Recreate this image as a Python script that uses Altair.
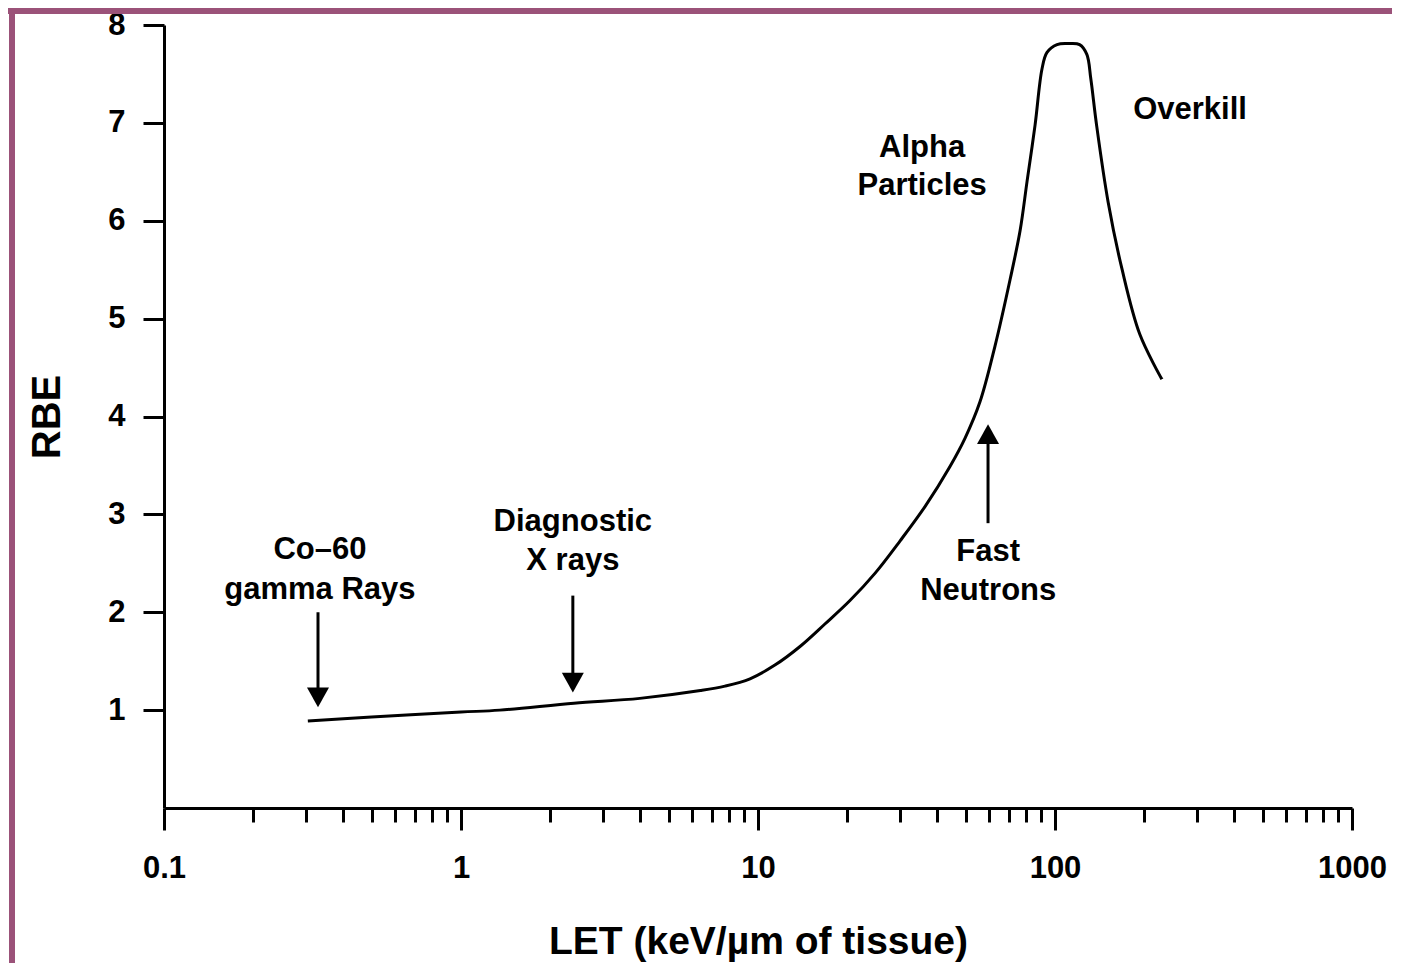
import altair as alt
import pandas as pd

# ---- data ----
let_vals = [0.305, 0.5, 1.0, 1.35, 2.4, 4.0, 6.4, 7.74, 9.4, 11.4, 13.85, 16.8, 20.4, 24.8,
            30.1, 36.5, 44.3, 49.8, 55.9, 62.8, 70.6, 76.3, 80.5, 85.7, 90.4, 94.0, 101.6,
            110.7, 121.0, 128.0, 132.0, 138.0, 151.0, 168.0, 193.0, 229.0]
rbe_vals = [0.89, 0.93, 0.98, 1.00, 1.07, 1.12, 1.20, 1.245, 1.32, 1.46, 1.65, 1.88, 2.12, 2.40,
            2.73, 3.08, 3.49, 3.78, 4.15, 4.72, 5.40, 5.90, 6.40, 6.98, 7.55, 7.72, 7.80,
            7.81, 7.80, 7.70, 7.45, 6.98, 6.19, 5.51, 4.84, 4.38]

arrow_x = [0.33, 2.38, 59.5]
arrow_from = [2.00, 2.17, 2.91]
arrow_to = [1.13, 1.28, 3.82]
arrow_dir = ["down", "down", "up"]

label_text = ["Co\u201360", "gamma Rays", "Diagnostic", "X rays", "Fast", "Neutrons",
              "Alpha", "Particles", "Overkill"]
label_x = [0.335, 0.335, 2.38, 2.38, 59.6, 59.6, 35.7, 35.7, 285.0]
label_y = [2.64, 2.23, 2.92, 2.52, 2.62, 2.22, 6.74, 6.36, 7.13]

major_ticks = [0.1, 1, 10, 100, 1000]
minor_ticks = [m * d for d in [0.1, 1, 10, 100] for m in range(2, 10)]
y_ticks = [1, 2, 3, 4, 5, 6, 7, 8]

FONT = "Liberation Sans"
W, H = 1188, 783

curve = pd.DataFrame({"LET": let_vals, "RBE": rbe_vals})
arrows = pd.DataFrame({"x": arrow_x, "y1": arrow_from, "y2": arrow_to,
                       "shape": ["M-1,-0.9L1,-0.9L0,0.9Z" if d == "down" else "M-1,0.9L1,0.9L0,-0.9Z"
                                 for d in arrow_dir]})
labels = pd.DataFrame({"t": label_text, "x": label_x, "y": label_y})

xscale = alt.Scale(type="log", domain=[0.1, 1000])
yscale = alt.Scale(domain=[0, 8], nice=False)

yaxis = alt.Axis(values=y_ticks, tickSize=21, tickWidth=3, tickColor="black",
                 domainWidth=3, domainColor="black", grid=False,
                 labelFont=FONT, labelFontWeight="bold", labelFontSize=31, labelColor="black",
                 labelPadding=18, title="RBE", titleFont=FONT, titleFontWeight="bold",
                 titleFontSize=40, titleColor="black", titlePadding=40)

line = alt.Chart(curve).mark_line(color="black", strokeWidth=3, interpolate="catmull-rom").encode(
    x=alt.X("LET:Q", scale=xscale,
            axis=alt.Axis(values=major_ticks, format="~g", tickSize=22, tickWidth=3,
                          tickColor="black", domainWidth=3, domainColor="black", grid=False,
                          labelFont=FONT, labelFontWeight="bold", labelFontSize=31,
                          labelColor="black", labelPadding=23, labelFlush=False,
                          title="LET (keV/\u00b5m of tissue)", titleFont=FONT,
                          titleFontWeight="bold", titleFontSize=39, titleColor="black",
                          titlePadding=39, orient="bottom")),
    y=alt.Y("RBE:Q", scale=yscale, axis=yaxis),
)

minor = alt.Chart(pd.DataFrame({"v": minor_ticks})).mark_point(opacity=0).encode(
    x=alt.X("v:Q", scale=xscale,
            axis=alt.Axis(values=minor_ticks, tickSize=14, tickWidth=3, tickColor="black",
                          labels=False, domain=False, grid=False, title=None, orient="bottom")),
    y=alt.value(0),
)

shafts = alt.Chart(arrows).mark_rule(color="black", strokeWidth=3).encode(
    x=alt.X("x:Q", scale=xscale, axis=None),
    y=alt.Y("y1:Q", scale=yscale, axis=yaxis),
    y2="y2:Q",
)

heads = alt.Chart(arrows).mark_point(filled=True, color="black", size=484, opacity=1,
                                     strokeWidth=0).encode(
    x=alt.X("x:Q", scale=xscale, axis=None),
    y=alt.Y("y2:Q", scale=yscale, axis=yaxis),
    shape=alt.Shape("shape:N", scale=None),
)

texts = alt.Chart(labels).mark_text(font=FONT, fontWeight="bold", fontSize=31, color="black",
                                    align="center", baseline="middle").encode(
    x=alt.X("x:Q", scale=xscale, axis=None),
    y=alt.Y("y:Q", scale=yscale, axis=yaxis),
    text="t:N",
)

PURPLE = "#9b5279"
border_top = alt.Chart(pd.DataFrame({"a": [0]})).mark_rule(color=PURPLE, strokeWidth=6).encode(
    x=alt.value(-160), x2=alt.value(W + 60), y=alt.value(-14))
border_left = alt.Chart(pd.DataFrame({"a": [0]})).mark_rule(color=PURPLE, strokeWidth=6).encode(
    x=alt.value(-152), y=alt.value(-17), y2=alt.value(H + 160))

chart = alt.layer(line, minor, shafts, heads, texts, border_top, border_left).resolve_axis(
    x="independent").properties(
    width=W, height=H,
    autosize=alt.AutoSizeParams(type="none"),
    padding={"left": 156, "top": 17, "right": 40, "bottom": 155},
).configure(background="white").configure_view(stroke=None)

chart.save("out.html", embed_options={"renderer": "svg", "actions": False})
